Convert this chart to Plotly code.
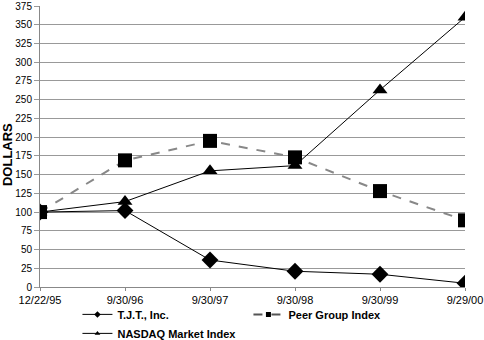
import plotly.graph_objects as go

dates = ["12/22/95", "9/30/96", "9/30/97", "9/30/98", "9/30/99", "9/29/00"]
tjt = [100, 102, 36, 21, 17, 5]
nasdaq = [100, 114, 155, 162, 263, 360]
peer = [100, 169, 195, 173, 128, 89]

FONT = "Liberation Sans, Arial, sans-serif"

fig = go.Figure()
# main traces
fig.add_trace(go.Scatter(x=dates, y=tjt, mode="lines+markers", showlegend=False,
                         line=dict(color="black", width=1),
                         marker=dict(symbol="diamond", size=13, color="black")))
fig.add_trace(go.Scatter(x=dates, y=nasdaq, mode="lines+markers", showlegend=False,
                         line=dict(color="black", width=1),
                         marker=dict(symbol="triangle-up", size=13, color="black")))
fig.add_trace(go.Scatter(x=dates, y=peer, mode="lines+markers", showlegend=False,
                         line=dict(color="#888888", width=2, dash="dash"),
                         marker=dict(symbol="square", size=14, color="black")))
# legend entries (small markers as in reference)
fig.add_trace(go.Scatter(x=[None], y=[None], mode="lines+markers", name="<b>T.J.T., Inc.</b>",
                         line=dict(color="black", width=1),
                         marker=dict(symbol="diamond", size=5, color="black")))
fig.add_trace(go.Scatter(x=[None], y=[None], mode="lines+markers", name="<b>Peer Group Index</b>",
                         line=dict(color="#555555", width=2, dash="dash"),
                         marker=dict(symbol="square", size=5, color="black")))
fig.add_trace(go.Scatter(x=[None], y=[None], mode="lines+markers", name="<b>NASDAQ Market Index</b>",
                         line=dict(color="black", width=1),
                         marker=dict(symbol="triangle-up", size=5, color="black")))

fig.update_layout(
    width=484, height=340,
    margin=dict(l=40, r=19, t=6, b=53),
    paper_bgcolor="white", plot_bgcolor="white",
    font=dict(family=FONT, size=11, color="black"),
    legend=dict(orientation="h", xref="container", yref="container",
                x=0.16, y=0.118, xanchor="left", yanchor="top",
                entrywidth=126, entrywidthmode="pixels",
                font=dict(size=11), itemsizing="trace", tracegroupgap=0,
                bgcolor="rgba(0,0,0,0)"),
    annotations=[dict(text="<b>DOLLARS</b>", textangle=-90, xref="paper", yref="paper",
                      x=-0.075, y=0.47, xanchor="center", yanchor="middle",
                      showarrow=False, font=dict(size=13, family=FONT))],
)
fig.update_xaxes(type="category", range=[0, 5], showgrid=False, showline=True,
                 linecolor="#888888", linewidth=1, ticks="outside", ticklen=3,
                 tickcolor="#888888", tickfont=dict(size=11), zeroline=False,
                 automargin=False)
fig.update_yaxes(range=[0, 375], dtick=25, showgrid=True, gridcolor="#999999",
                 gridwidth=1, showline=True, linecolor="#888888", linewidth=1,
                 ticks="outside", ticklen=5, tickcolor="#999999",
                 tickfont=dict(size=10), zeroline=False, automargin=False)

fig.write_html("out.html")
